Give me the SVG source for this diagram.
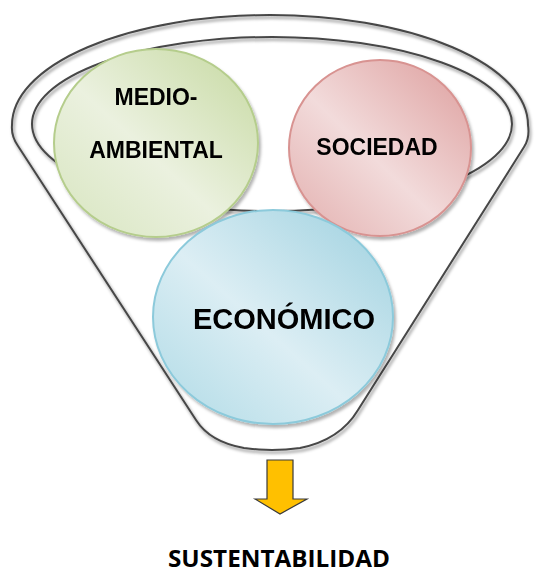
<svg xmlns="http://www.w3.org/2000/svg" width="540" height="575" viewBox="0 0 540 575">
  <style>
    .funnel { fill: none; stroke: #474747; stroke-width: 2; }
    .lbl { font-family: "Liberation Sans", Arial, sans-serif; font-weight: bold; fill: #000; text-anchor: middle; }
    .foot { font-family: "Open Sans", Lato, "Liberation Sans", sans-serif; font-weight: bold; fill: #000; text-anchor: middle; }
  </style>
  <defs>
    <filter id="lineShadow" x="-10%" y="-10%" width="120%" height="130%">
      <feDropShadow dx="1.5" dy="2.5" stdDeviation="1.6" flood-color="#000" flood-opacity="0.45"/>
    </filter>
    <filter id="ballShadow" x="-10%" y="-10%" width="125%" height="125%">
      <feDropShadow dx="2" dy="3" stdDeviation="1.5" flood-color="#000" flood-opacity="0.3"/>
    </filter>
    <linearGradient id="gGreen" x1="0.95" y1="0.05" x2="0.05" y2="0.95">
      <stop offset="0" stop-color="#C9DBA6"/>
      <stop offset="0.55" stop-color="#EBF1DF"/>
      <stop offset="1" stop-color="#D9E6C2"/>
    </linearGradient>
    <linearGradient id="gRed" x1="0.95" y1="0.05" x2="0.05" y2="0.95">
      <stop offset="0" stop-color="#DFA3A2"/>
      <stop offset="0.55" stop-color="#F2DBDB"/>
      <stop offset="1" stop-color="#E4B3B2"/>
    </linearGradient>
    <linearGradient id="gBlue" x1="0.95" y1="0.05" x2="0.05" y2="0.95">
      <stop offset="0" stop-color="#A3D3E1"/>
      <stop offset="0.55" stop-color="#DCEEF4"/>
      <stop offset="1" stop-color="#B3DCE7"/>
    </linearGradient>
  </defs>

  <g id="funnel" filter="url(#lineShadow)">
    <path class="funnel" d="M 12,125 A 258 110 0 0 1 528 125 Q 530 138 524 147 L 358 410 Q 340 440 300 448 Q 272 452 244 448 Q 210 442 196 420 L 18 146 Q 11 136 12 125 Z"/>
    <ellipse class="funnel" cx="272" cy="124" rx="240" ry="87"/>
  </g>

  <g id="medioambiental" filter="url(#ballShadow)">
    <ellipse cx="156" cy="143" rx="102" ry="94" fill="url(#gGreen)" stroke="#B5CD8C" stroke-width="2"/>
    <text class="lbl" x="156" y="105" font-size="23">MEDIO-</text>
    <text class="lbl" x="156" y="158" font-size="23">AMBIENTAL</text>
  </g>

  <g id="sociedad" filter="url(#ballShadow)">
    <ellipse cx="380" cy="148" rx="91" ry="88" fill="url(#gRed)" stroke="#D89391" stroke-width="2"/>
    <text class="lbl" x="377" y="155" font-size="23">SOCIEDAD</text>
  </g>

  <g id="economico" filter="url(#ballShadow)">
    <ellipse cx="273" cy="317" rx="120" ry="107" fill="url(#gBlue)" stroke="#8CCADB" stroke-width="2"/>
    <text class="lbl" x="284" y="329" font-size="29">ECONÓMICO</text>
  </g>

  <g id="connectors">
    <path d="M 267,460 L 293,460 L 293,499 L 307,499 L 280,514 L 255,499 L 267,499 Z" fill="#FFC000" stroke="#3A3A3A" stroke-width="1.2" stroke-linejoin="miter"/>
  </g>

  <g id="sustentabilidad">
    <text class="foot" x="279" y="567" font-size="24" textLength="222" lengthAdjust="spacingAndGlyphs">SUSTENTABILIDAD</text>
  </g>
</svg>
